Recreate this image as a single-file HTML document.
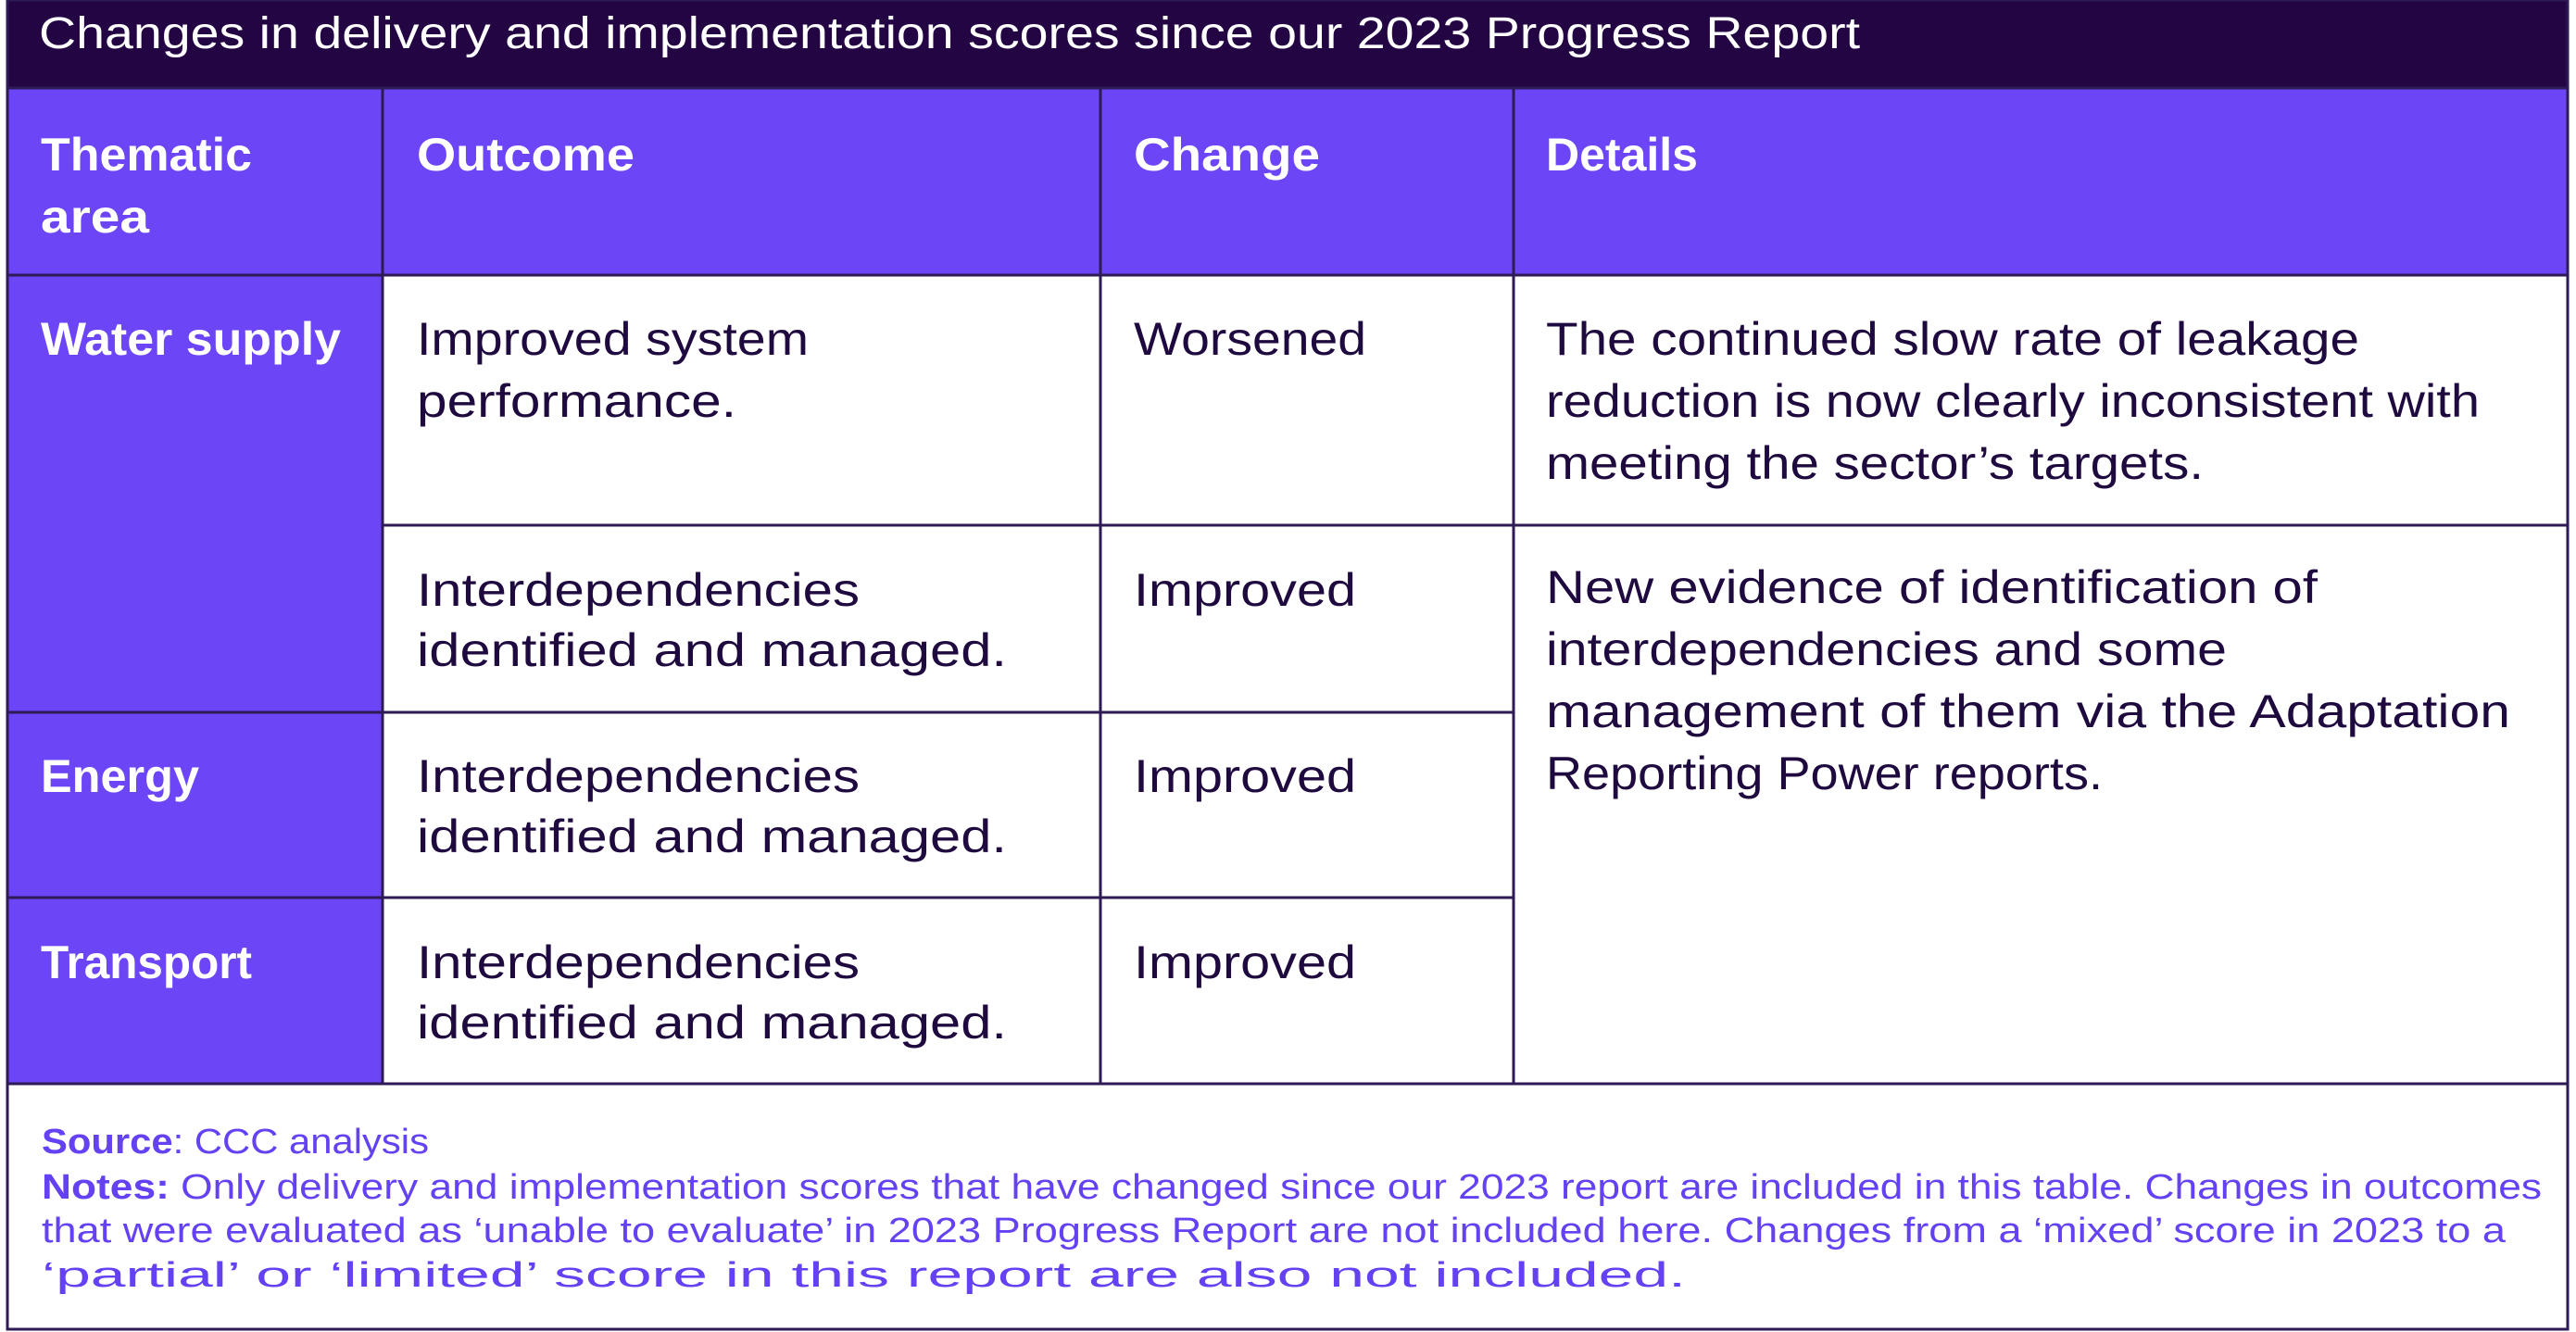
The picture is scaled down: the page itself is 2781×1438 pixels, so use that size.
<!DOCTYPE html>
<html><head><meta charset="utf-8"><style>
html,body{margin:0;padding:0;background:#fff;}
svg{display:block;}
text{font-family:"Liberation Sans",sans-serif;}
.b{fill:#1F0A3F;font-size:50px;}
.h{fill:#fff;font-size:50px;font-weight:bold;}
.f{fill:#6441F2;font-size:38px;}
</style></head><body>
<svg width="2781" height="1438" viewBox="0 0 2781 1438" xmlns="http://www.w3.org/2000/svg">
<rect x="0" y="0" width="2781" height="1438" fill="#fff"/>
<rect x="8" y="0" width="2765" height="94" fill="#230543"/>
<text x="42" y="52" fill="#fff" font-size="48" textLength="1966" lengthAdjust="spacingAndGlyphs">Changes in delivery and implementation scores since our 2023 Progress Report</text>
<rect x="8" y="96" width="2765" height="201" fill="#6B45F6"/>
<rect x="8" y="297" width="405" height="873" fill="#6B45F6"/>
<g stroke="#2E1A55" stroke-width="3" fill="none">
<line x1="8" y1="95" x2="2773" y2="95"/>
<line x1="8" y1="297" x2="2773" y2="297"/>
<line x1="413" y1="567" x2="1634" y2="567"/>
<line x1="1634" y1="567" x2="2773" y2="567"/>
<line x1="8" y1="769" x2="1634" y2="769"/>
<line x1="8" y1="969" x2="1634" y2="969"/>
<line x1="8" y1="1170" x2="2773" y2="1170"/>
<line x1="413" y1="95" x2="413" y2="1170"/>
<line x1="1188" y1="95" x2="1188" y2="1170"/>
<line x1="1634" y1="95" x2="1634" y2="1170"/>
<rect x="8" y="0" width="2764" height="1435"/>
</g>
<text class="h" x="44" y="184" textLength="228" lengthAdjust="spacingAndGlyphs">Thematic</text>
<text class="h" x="44" y="251" textLength="117" lengthAdjust="spacingAndGlyphs">area</text>
<text class="h" x="450" y="184" textLength="235" lengthAdjust="spacingAndGlyphs">Outcome</text>
<text class="h" x="1224" y="184" textLength="201" lengthAdjust="spacingAndGlyphs">Change</text>
<text class="h" x="1669" y="184" textLength="164" lengthAdjust="spacingAndGlyphs">Details</text>

<text class="h" x="44" y="383" textLength="324" lengthAdjust="spacingAndGlyphs">Water supply</text>
<text class="h" x="44" y="855" textLength="171" lengthAdjust="spacingAndGlyphs">Energy</text>
<text class="h" x="44" y="1056" textLength="228" lengthAdjust="spacingAndGlyphs">Transport</text>

<text class="b" x="450" y="383" textLength="423" lengthAdjust="spacingAndGlyphs">Improved system</text>
<text class="b" x="450" y="450" textLength="345" lengthAdjust="spacingAndGlyphs">performance.</text>
<text class="b" x="1224" y="383" textLength="251" lengthAdjust="spacingAndGlyphs">Worsened</text>

<text class="b" x="450" y="654" textLength="478" lengthAdjust="spacingAndGlyphs">Interdependencies</text>
<text class="b" x="450" y="719" textLength="637" lengthAdjust="spacingAndGlyphs">identified and managed.</text>
<text class="b" x="1224" y="654" textLength="240" lengthAdjust="spacingAndGlyphs">Improved</text>

<text class="b" x="450" y="855" textLength="478" lengthAdjust="spacingAndGlyphs">Interdependencies</text>
<text class="b" x="450" y="920" textLength="637" lengthAdjust="spacingAndGlyphs">identified and managed.</text>
<text class="b" x="1224" y="855" textLength="240" lengthAdjust="spacingAndGlyphs">Improved</text>

<text class="b" x="450" y="1056" textLength="478" lengthAdjust="spacingAndGlyphs">Interdependencies</text>
<text class="b" x="450" y="1121" textLength="637" lengthAdjust="spacingAndGlyphs">identified and managed.</text>
<text class="b" x="1224" y="1056" textLength="240" lengthAdjust="spacingAndGlyphs">Improved</text>

<text class="b" x="1669" y="383" textLength="878" lengthAdjust="spacingAndGlyphs">The continued slow rate of leakage</text>
<text class="b" x="1669" y="450" textLength="1008" lengthAdjust="spacingAndGlyphs">reduction is now clearly inconsistent with</text>
<text class="b" x="1669" y="517" textLength="710" lengthAdjust="spacingAndGlyphs">meeting the sector’s targets.</text>

<text class="b" x="1669" y="651" textLength="833" lengthAdjust="spacingAndGlyphs">New evidence of identification of</text>
<text class="b" x="1669" y="718" textLength="735" lengthAdjust="spacingAndGlyphs">interdependencies and some</text>
<text class="b" x="1669" y="785" textLength="1041" lengthAdjust="spacingAndGlyphs">management of them via the Adaptation</text>
<text class="b" x="1669" y="852" textLength="601" lengthAdjust="spacingAndGlyphs">Reporting Power reports.</text>

<text class="f" x="45" y="1245" textLength="418" lengthAdjust="spacingAndGlyphs"><tspan font-weight="bold">Source</tspan>: CCC analysis</text>
<text class="f" x="45" y="1294" textLength="2699" lengthAdjust="spacingAndGlyphs"><tspan font-weight="bold">Notes:</tspan> Only delivery and implementation scores that have changed since our 2023 report are included in this table. Changes in outcomes</text>
<text class="f" x="45" y="1341" textLength="2660" lengthAdjust="spacingAndGlyphs">that were evaluated as ‘unable to evaluate’ in 2023 Progress Report are not included here. Changes from a ‘mixed’ score in 2023 to a</text>
<text class="f" x="45" y="1389" textLength="1775" lengthAdjust="spacingAndGlyphs">‘partial’ or ‘limited’ score in this report are also not included.</text>
</svg>
</body></html>
